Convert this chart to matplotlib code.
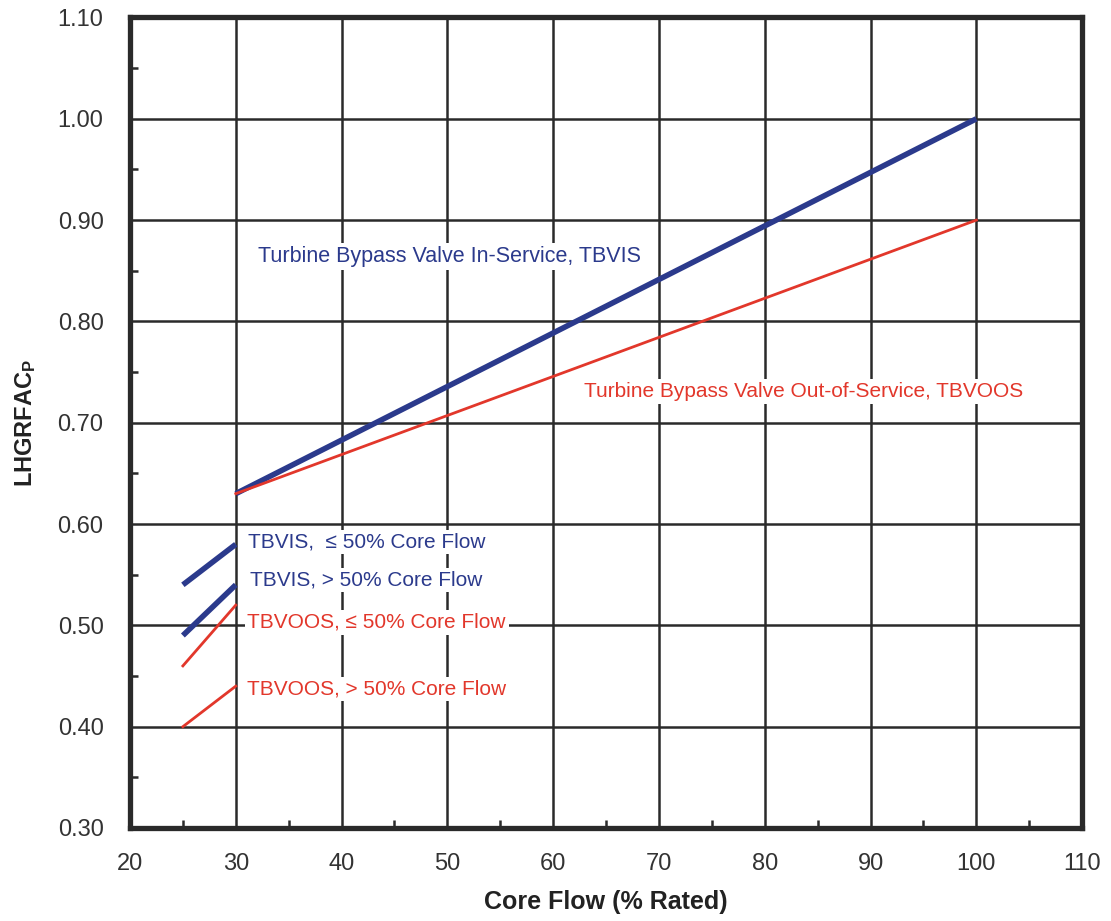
import matplotlib
matplotlib.use("Agg")
import matplotlib.pyplot as plt
from matplotlib.ticker import MultipleLocator

plt.rcParams['font.family'] = ['Liberation Sans', 'DejaVu Sans']
plt.rcParams['mathtext.fontset'] = 'custom'
plt.rcParams['mathtext.rm'] = 'Liberation Sans'
plt.rcParams['mathtext.bf'] = 'Liberation Sans:bold'

# main curves (core flow %, LHGRFAC_P)
main_flow = [30, 100]
tbvis_main = [0.63, 1.00]
tbvoos_main = [0.63, 0.90]

# low flow segments between 25% and 30% power
low_flow = [25, 30]
tbvis_le50 = [0.54, 0.58]
tbvis_gt50 = [0.49, 0.54]
tbvoos_le50 = [0.46, 0.52]
tbvoos_gt50 = [0.40, 0.44]

x_ticks = [20, 30, 40, 50, 60, 70, 80, 90, 100, 110]
y_ticks = [0.30, 0.40, 0.50, 0.60, 0.70, 0.80, 0.90, 1.00, 1.10]

blue = "#2b3a8c"
red = "#e2372b"
grid_col = "#2a2a2a"

fig = plt.figure(figsize=(11.11, 9.21), dpi=100)
ax = fig.add_axes([0.117, 0.101, 0.857, 0.880])

ax.set_xlim(20, 110)
ax.set_ylim(0.30, 1.10)
ax.set_xticks(x_ticks)
ax.set_yticks(y_ticks)
ax.set_yticklabels([f"{v:.2f}" for v in y_ticks])
ax.xaxis.set_minor_locator(MultipleLocator(5))
ax.yaxis.set_minor_locator(MultipleLocator(0.05))

ax.grid(True, which='major', color=grid_col, linewidth=1.8, zorder=1)
ax.set_axisbelow(True)
for s in ax.spines.values():
    s.set_linewidth(3.8)
    s.set_color("#2a2a2a")

ax.tick_params(which='major', length=0, labelsize=17, labelcolor="#333333", pad=18)
ax.tick_params(axis='y', which='major', pad=19)
ax.tick_params(which='minor', direction='in', length=6, width=1.8, color=grid_col)

ax.plot(main_flow, tbvis_main, color=blue, linewidth=4, zorder=4, solid_capstyle='butt')
ax.plot(main_flow, tbvoos_main, color=red, linewidth=2, zorder=4)
ax.plot(low_flow, tbvis_le50, color=blue, linewidth=4, zorder=4, solid_capstyle='butt')
ax.plot(low_flow, tbvis_gt50, color=blue, linewidth=4, zorder=4, solid_capstyle='butt')
ax.plot(low_flow, tbvoos_le50, color=red, linewidth=2, zorder=4)
ax.plot(low_flow, tbvoos_gt50, color=red, linewidth=2, zorder=4)

box = dict(facecolor='white', edgecolor='none', pad=2)
ax.text(32.1, 0.864, "Turbine Bypass Valve In-Service, TBVIS", color=blue,
        fontsize=15.5, va='center', ha='left', bbox=box, zorder=3)
ax.text(62.9, 0.731, "Turbine Bypass Valve Out-of-Service, TBVOOS", color=red,
        fontsize=15, va='center', ha='left', bbox=box, zorder=3)
ax.text(31.2, 0.582, "TBVIS,  \u2264 50% Core Flow", color=blue,
        fontsize=15, va='center', ha='left', bbox=box, zorder=3)
ax.text(31.3, 0.545, "TBVIS, > 50% Core Flow", color=blue,
        fontsize=15, va='center', ha='left', bbox=box, zorder=3)
ax.text(31.1, 0.503, "TBVOOS, \u2264 50% Core Flow", color=red,
        fontsize=15, va='center', ha='left', bbox=box, zorder=3)
ax.text(31.1, 0.437, "TBVOOS, > 50% Core Flow", color=red,
        fontsize=15, va='center', ha='left', bbox=box, zorder=3)

ax.set_xlabel("Core Flow (% Rated)", fontsize=18, fontweight='bold', color="#222222", labelpad=11)
ax.set_ylabel(r"$\mathbf{LHGRFAC_P}$", fontsize=17, color="#222222", labelpad=14)

fig.savefig("out.png", dpi=100)
